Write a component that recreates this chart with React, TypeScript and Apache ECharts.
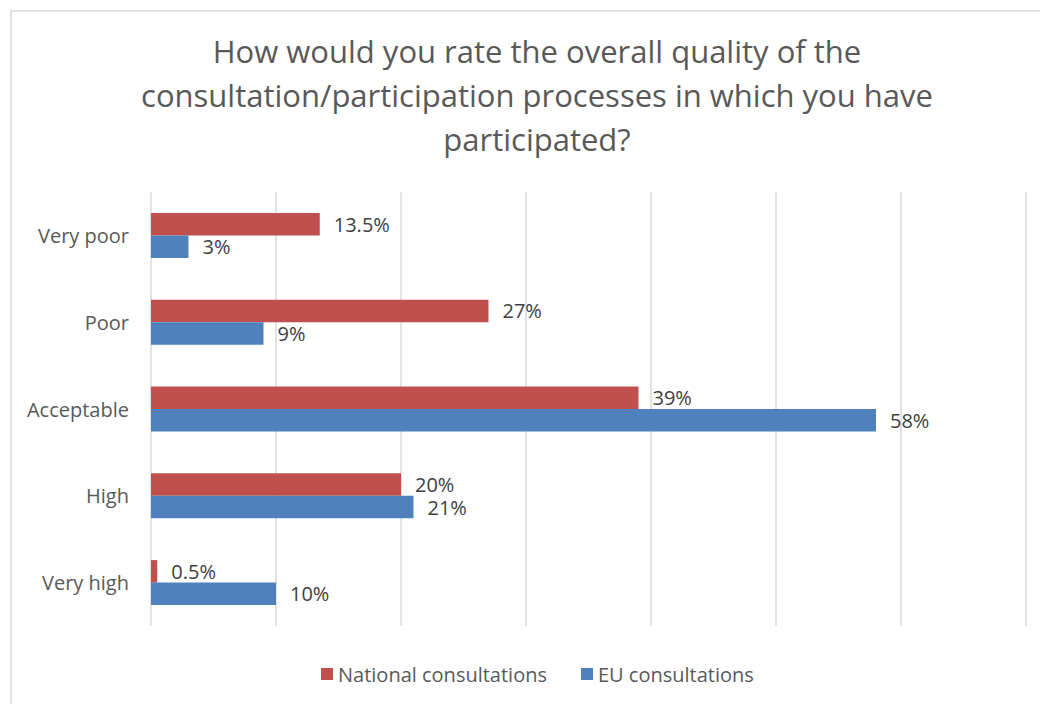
import React, { useEffect, useRef } from "react";
import * as echarts from "echarts";

const categories = ["Very poor", "Poor", "Acceptable", "High", "Very high"];
const nationalValues = [13.5, 27, 39, 20, 0.5];
const euValues = [3, 9, 58, 21, 10];
const seriesNames = ["National consultations", "EU consultations"];
const titleText =
  "How would you rate the overall quality of the\nconsultation/participation processes in which you have\nparticipated?";

const FONT = "'Open Sans', Lato, sans-serif";

export default function App() {
  const ref = useRef<HTMLDivElement>(null);
  useEffect(() => {
    if (!ref.current) return;
    const chart = echarts.init(ref.current, null, { renderer: "svg" });
    const label = {
      show: true,
      position: "right",
      distance: 14,
      color: "#404040",
      fontSize: 20,
      lineHeight: 20,
      fontFamily: FONT,
      formatter: (p: any) => `${p.value}%`,
    };
    chart.setOption({
      animation: false,
      backgroundColor: "#ffffff",
      graphic: [
        {
          type: "rect",
          shape: { x: 11, y: 11, width: 1100, height: 800 },
          style: { fill: "none", stroke: "#d9d9d9", lineWidth: 1.5 },
          silent: true,
        },
      ],
      title: {
        text: titleText,
        left: 532,
        textAlign: "center",
        top: 24,
        textStyle: {
          color: "#595959",
          fontSize: 31,
          lineHeight: 44,
          fontWeight: "normal",
          fontFamily: FONT,
        },
      },
      legend: {
        data: seriesNames,
        bottom: 15,
        left: 316,
        itemWidth: 12,
        itemHeight: 12,
        itemGap: 34,
        icon: "rect",
        textStyle: { color: "#595959", fontSize: 20, fontFamily: FONT },
      },
      grid: { left: 151, right: 14, top: 192, bottom: 78, containLabel: false },
      xAxis: {
        type: "value",
        min: 0,
        max: 70,
        interval: 10,
        axisLabel: { show: false },
        axisLine: { show: false },
        axisTick: { show: false },
        splitLine: { lineStyle: { color: "#d9d9d9", width: 1.5 } },
      },
      yAxis: {
        type: "category",
        data: categories,
        inverse: true,
        axisLine: { show: false },
        axisTick: { show: false },
        axisLabel: {
          margin: 22,
          color: "#595959",
          fontSize: 20,
          fontFamily: FONT,
        },
      },
      series: [
        {
          name: seriesNames[0],
          type: "bar",
          data: nationalValues,
          barWidth: 22.5,
          barGap: "0%",
          itemStyle: { color: "#c0504d" },
          label,
        },
        {
          name: seriesNames[1],
          type: "bar",
          data: euValues,
          barWidth: 22.5,
          barGap: "0%",
          itemStyle: { color: "#4f81bd" },
          label,
        },
      ],
    });
    return () => chart.dispose();
  }, []);
  return (
    <div
      ref={ref}
      style={{ position: "fixed", left: 0, top: 0, width: 1040, height: 704 }}
    />
  );
}
